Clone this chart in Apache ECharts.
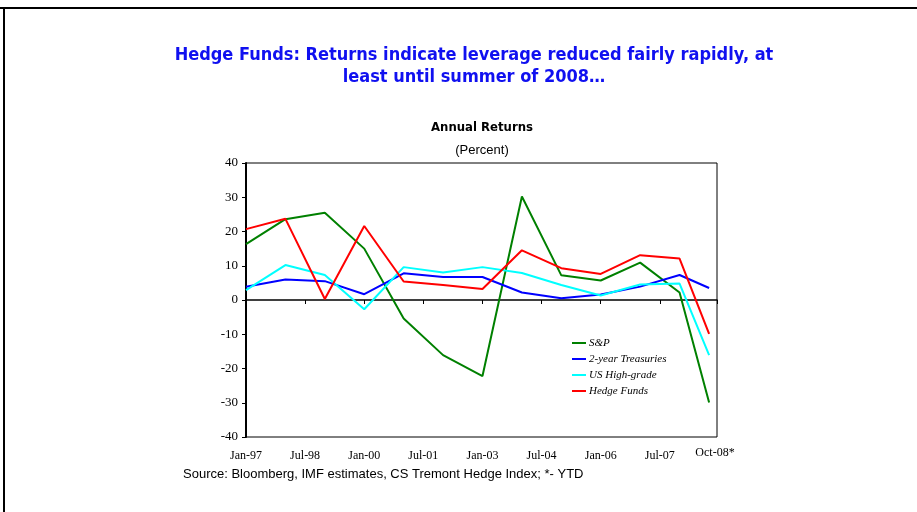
<!DOCTYPE html>
<html>
<head>
<meta charset="utf-8">
<script src="https://cdn.jsdelivr.net/npm/echarts@6/dist/echarts.min.js"></script>
<style>
  html, body { margin: 0; padding: 0; background: #fff; }
  #main { width: 917px; height: 512px; }
</style>
</head>
<body>
<div id="main"></div>
<script>
// x values are months counted from Jan-97 (last point is Oct-08, year to date)
var months = [0, 12, 24, 36, 48, 60, 72, 84, 96, 108, 120, 132, 141];
var tickLabels = ['Jan-97', 'Jul-98', 'Jan-00', 'Jul-01', 'Jan-03', 'Jul-04', 'Jan-06', 'Jul-07'];
var seriesNames = ['S&P', '2-year Treasuries', 'US High-grade', 'Hedge Funds'];

var sp = [16.3, 23.6, 25.5, 15.0, -5.4, -16.1, -22.2, 30.2, 7.2, 5.7, 10.9, 2.2, -29.9];
var treasuries = [3.9, 6.0, 5.5, 1.7, 7.8, 6.7, 6.7, 2.2, 0.5, 1.6, 3.9, 7.3, 3.5];
var highGrade = [2.9, 10.2, 7.3, -2.7, 9.6, 8.0, 9.6, 7.9, 4.4, 1.3, 4.5, 4.8, -16.1];
var hedgeFunds = [20.7, 23.7, 0.3, 21.6, 5.4, 4.4, 3.2, 14.5, 9.3, 7.6, 13.1, 12.1, -9.9];

var colors = ['#008000', '#0000ff', '#00ffff', '#ff0000'];

function pairs(vals) {
  return months.map(function (m, i) { return [m, vals[i]]; });
}

var chart = echarts.init(document.getElementById('main'));

var serif = '"Liberation Serif", "DejaVu Serif", serif';
var sans = '"Liberation Sans", "DejaVu Sans", sans-serif';
var heavy = '"DejaVu Sans Condensed", "Liberation Sans Narrow", "Liberation Sans", sans-serif';

var option = {
  animation: false,
  backgroundColor: '#fff',
  title: [
    {
      text: 'Hedge Funds: Returns indicate leverage reduced fairly rapidly, at\nleast until summer of 2008…',
      left: 474, top: 44, textAlign: 'center', padding: 0,
      textStyle: { color: '#1010f0', fontFamily: heavy, fontSize: 18, fontWeight: 'bold', lineHeight: 22 }
    },
    {
      text: 'Annual Returns',
      left: 482, top: 121, textAlign: 'center', padding: 0,
      textStyle: { color: '#000', fontFamily: heavy, fontSize: 13, fontWeight: 'bold', lineHeight: 14 }
    },
    {
      text: '(Percent)',
      left: 482, top: 143, textAlign: 'center', padding: 0,
      textStyle: { color: '#000', fontFamily: sans, fontSize: 13, fontWeight: 'normal', lineHeight: 14 }
    },
    {
      text: 'Source: Bloomberg, IMF estimates, CS Tremont Hedge Index; *- YTD',
      left: 183, top: 467, padding: 0,
      textStyle: { color: '#000', fontFamily: sans, fontSize: 13, fontWeight: 'normal', lineHeight: 14 }
    }
  ],
  legend: {
    orient: 'vertical',
    left: 567, top: 331,
    icon: 'rect',
    itemWidth: 14, itemHeight: 2,
    itemGap: 2,
    data: seriesNames,
    textStyle: { color: '#000', fontFamily: serif, fontStyle: 'italic', fontSize: 11, lineHeight: 14, padding: [0, 0, 0, -2] }
  },
  grid: {
    left: 246, right: 200, top: 163, bottom: 75,
    show: true, borderColor: '#000', borderWidth: 1
  },
  xAxis: [
    {
      type: 'value', position: 'bottom',
      min: 0, max: 143.4, interval: 18,
      axisLine: { show: false, onZero: false },
      axisTick: { show: false },
      splitLine: { show: false },
      axisLabel: {
        margin: 13, color: '#000', fontFamily: serif, fontSize: 12,
        showMaxLabel: false,
        formatter: function (v) { return v % 18 === 0 ? (tickLabels[v / 18] || '') : ''; }
      }
    },
    {
      type: 'value', position: 'top',
      min: 0, max: 143.4, interval: 18,
      axisLine: { show: true, onZero: true, onZeroAxisIndex: 0, lineStyle: { color: '#000', width: 1.5 } },
      axisTick: { show: true, inside: true, length: 4, lineStyle: { color: '#000' } },
      axisLabel: { show: false },
      splitLine: { show: false }
    }
  ],
  yAxis: {
    type: 'value', min: -40, max: 40, interval: 10,
    axisLine: { show: true, onZero: false, lineStyle: { color: '#000', width: 2 } },
    axisTick: { show: true, length: 4, lineStyle: { color: '#000' } },
    axisLabel: { margin: 8, color: '#000', fontFamily: serif, fontSize: 13 },
    splitLine: { show: false }
  },
  graphic: [
    { type: 'line', shape: { x1: 0, y1: 8, x2: 917, y2: 8 }, style: { stroke: '#000', lineWidth: 2 } },
    { type: 'line', shape: { x1: 4, y1: 8, x2: 4, y2: 512 }, style: { stroke: '#000', lineWidth: 2 } },
    {
      type: 'text', x: 715, y: 453,
      style: { text: 'Oct-08*', fill: '#000', font: '12px ' + serif, align: 'center', verticalAlign: 'middle' }
    }
  ],
  series: [
    { name: seriesNames[0], type: 'line', data: pairs(sp) },
    { name: seriesNames[1], type: 'line', data: pairs(treasuries) },
    { name: seriesNames[2], type: 'line', data: pairs(highGrade) },
    { name: seriesNames[3], type: 'line', data: pairs(hedgeFunds) }
  ].map(function (s, i) {
    s.xAxisIndex = 0;
    s.symbol = 'none';
    s.color = colors[i];
    s.lineStyle = { width: 2, color: colors[i] };
    return s;
  })
};

chart.setOption(option);
</script>
</body>
</html>
